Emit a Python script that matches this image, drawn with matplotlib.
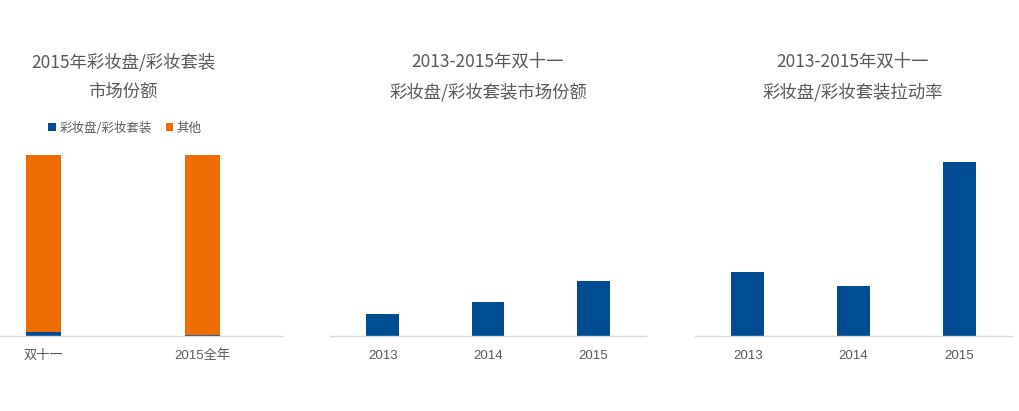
import matplotlib
matplotlib.use("Agg")
import matplotlib.pyplot as plt
from matplotlib.patches import Patch

plt.rcParams['font.family'] = ['Noto Sans CJK SC', 'DejaVu Sans']

# ---- data ----
share_cats = ["双十一", "2015全年"]
share_palette = [2.2, 0.6]          # % 彩妆盘/彩妆套装
share_other = [97.8, 99.4]          # % 其他
legend_labels = ["彩妆盘/彩妆套装", "其他"]

years = ["2013", "2014", "2015"]
market_share = [0.88, 1.37, 2.2]   # 双十一 market share (%)
pull_rate = [36.8, 28.8, 100.0]    # 拉动率 (relative)

titles = [
    "2015年彩妆盘/彩妆套装\n市场份额",
    "2013-2015年双十一\n彩妆盘/彩妆套装市场份额",
    "2013-2015年双十一\n彩妆盘/彩妆套装拉动率",
]

BLUE = "#004C93"
ORANGE = "#ED6D00"
GRID = "#D9D9D9"
TXT = "#595959"

W, H = 1019, 411
fig = plt.figure(figsize=(W / 100, H / 100), dpi=100)

def px_axes(x0, x1, ytop=155, ybot=336):
    return fig.add_axes([x0 / W, 1 - ybot / H, (x1 - x0) / W, (ybot - ytop) / H])

def style(ax):
    for s in ["top", "right", "left"]:
        ax.spines[s].set_visible(False)
    ax.spines["bottom"].set_color(GRID)
    ax.spines["bottom"].set_linewidth(1.0)
    ax.set_yticks([])
    ax.tick_params(axis="x", length=0, pad=10, colors=TXT)
    ax.set_facecolor("none")

tick_font = ['Liberation Sans', 'Noto Sans CJK SC']

# left: stacked share
ax1 = px_axes(-36, 282)
x1 = range(len(share_cats))
ax1.bar(x1, share_palette, width=0.22, color=BLUE)
ax1.bar(x1, share_other, width=0.22, bottom=share_palette, color=ORANGE)
ax1.set_xlim(-0.5, 1.5)
ax1.set_ylim(0, 100)
ax1.set_xticks(list(x1))
ax1.set_xticklabels(share_cats, fontsize=9.5, family=tick_font)
style(ax1)

# middle: market share
ax2 = px_axes(330, 646)
ax2.bar(range(3), market_share, width=0.31, color=BLUE)
ax2.set_xlim(-0.5, 2.5)
ax2.set_ylim(0, max(market_share) * 181 / 54.7)
ax2.set_xticks(range(3))
ax2.set_xticklabels(years, fontsize=9.5, family=tick_font)
style(ax2)

# right: pull rate
ax3 = px_axes(695, 1012)
ax3.bar(range(3), pull_rate, width=0.31, color=BLUE)
ax3.set_xlim(-0.5, 2.5)
ax3.set_ylim(0, max(pull_rate) * 181 / 173.7)
ax3.set_xticks(range(3))
ax3.set_xticklabels(years, fontsize=9.5, family=tick_font)
style(ax3)

# titles
for cx, t in zip([123, 488, 853], titles):
    l1, l2 = t.split("\n")
    fig.text(cx / W, 1 - 62 / H, l1, ha="center", va="center", fontsize=12.5, color=TXT)
    fig.text(cx / W, 1 - 92 / H, l2, ha="center", va="center", fontsize=12.5, color=TXT)

# legend
handles = [Patch(facecolor=BLUE), Patch(facecolor=ORANGE)]
fig.legend(handles, legend_labels, loc="center", bbox_to_anchor=(125 / W, 1 - 128 / H),
           ncol=2, frameon=False, fontsize=9, handlelength=0.6, handleheight=0.6,
           handletextpad=0.3, columnspacing=1.1, labelcolor=TXT)

fig.savefig("out.png", dpi=100)
